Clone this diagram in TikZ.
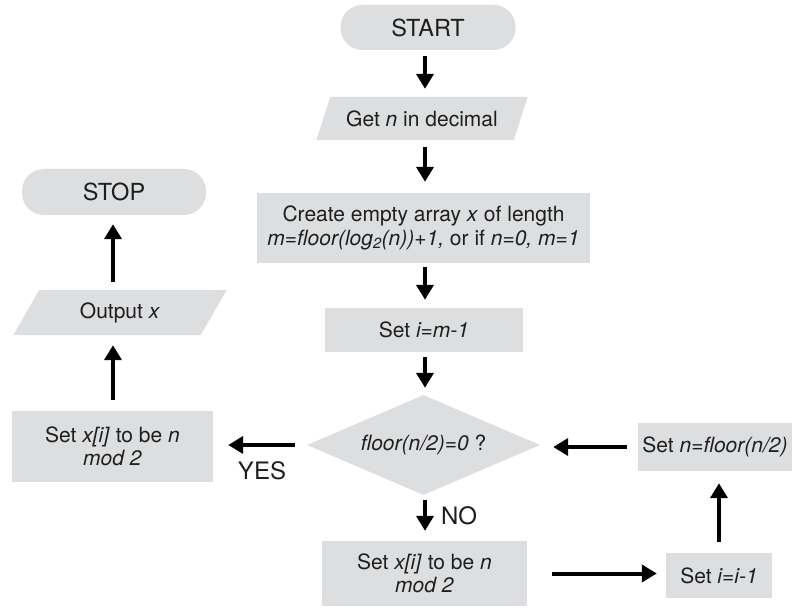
\documentclass[tikz,border=0pt]{standalone}
\usepackage{fontspec}
\setmainfont{TeX Gyre Heros}
\usetikzlibrary{arrows.meta,shapes.geometric}
\definecolor{boxgray}{RGB}{221,222,224}
\definecolor{txt}{RGB}{30,30,30}
\pgfdeclarelayer{bg}
\pgfsetlayers{bg,main}
\begin{document}
\begin{tikzpicture}[x=1pt,y=-1pt,
  every node/.style={text=txt, font=\fontsize{21}{23.5}\selectfont, inner sep=0pt, align=center},
  box/.style={rectangle, fill=boxgray},
  term/.style={rectangle, fill=boxgray, rounded corners=22pt, font=\fontsize{23.5}{26}\selectfont},
  iobox/.style={rectangle},
  cond/.style={diamond, fill=boxgray, aspect=2.33},
  arr/.style={line width=4pt, -{Triangle[length=15pt,width=17pt]}},
  lbl/.style={font=\fontsize{24}{26}\selectfont}]
\useasboundingbox (0,0) rectangle (794,609);

\node[term, minimum width=175pt, minimum height=45pt] (start) at (428,27.5) {START};
\node[iobox, minimum width=197pt, minimum height=43pt] (get) at (422,118.5) {Get \textit{n} in decimal};
\node[box, minimum width=333pt, minimum height=70pt] (create) at (423.5,228) {Create empty array \textit{x} of length\\\textit{m=floor(log\textsubscript{2}(n))+1,} or if \textit{n=0, m=1}};
\node[box, minimum width=198pt, minimum height=44pt] (seti) at (424,330) {Set \textit{i=m-1}};
\node[cond, minimum width=233pt, minimum height=100pt] (dec) at (423.5,445) {\textit{floor(n/2)=0} ?};
\node[box, minimum width=205pt, minimum height=65pt] (setx) at (424.5,573.5) {Set \textit{x[i]} to be \textit{n}\\\textit{mod 2}};
\node[box, minimum width=106pt, minimum height=45pt] (dec1) at (719,575.5) {Set \textit{i=i-1}};
\node[box, minimum width=154pt, minimum height=48pt] (half) at (715,447) {Set \textit{n=floor(n/2)}};
\node[box, minimum width=201pt, minimum height=71pt] (last) at (112.5,446.5) {Set \textit{x[i]} to be \textit{n}\\\textit{mod 2}};
\node[iobox, minimum width=187pt, minimum height=45pt] (out) at (120,312.5) {Output \textit{x}};
\node[term, minimum width=184pt, minimum height=46pt] (stop) at (114,192) {STOP};

\begin{pgfonlayer}{bg}
\fill[boxgray] ([xshift=7pt]get.north west) -- ([xshift=7pt]get.north east) -- ([xshift=-7pt]get.south east) -- ([xshift=-7pt]get.south west) -- cycle;
\fill[boxgray] ([xshift=13pt]out.north west) -- ([xshift=13pt]out.north east) -- ([xshift=-13pt]out.south east) -- ([xshift=-13pt]out.south west) -- cycle;
\end{pgfonlayer}

\coordinate (cx) at (425,0);
\coordinate (lx) at (113,0);
\draw[arr, shorten <=6pt, shorten >=8pt] (start.south -| cx) -- (get.north -| cx);
\draw[arr, shorten <=7pt, shorten >=11pt] (get.south -| cx) -- (create.north -| cx);
\draw[arr, shorten <=4pt, shorten >=8pt] (create.south -| cx) -- (seti.north -| cx);
\draw[arr, shorten <=5pt, shorten >=7pt] (seti.south -| cx) -- (dec.north -| cx);
\draw[arr, shorten <=5pt, shorten >=10pt] (dec.south -| cx) -- (setx.north -| cx);
\draw[arr, shorten <=12pt, shorten >=15pt] (dec.west) -- (dec.west -| last.east);
\draw[arr, shorten <=11pt, shorten >=13pt] (half.west) -- (half.west -| dec.east);
\draw[arr, shorten <=25pt, shorten >=9pt] (setx.east) -- (setx.east -| dec1.west);
\draw[arr, shorten <=11pt, shorten >=12pt] (dec1.north) -- (dec1.north |- half.south);
\draw[arr, shorten <=11pt, shorten >=10pt] (last.north -| lx) -- (out.south -| lx);
\draw[arr, shorten <=8pt, shorten >=9pt] (out.north -| lx) -- (stop.south -| lx);

\node[lbl] (yes) at (262,471) {YES};
\node[lbl] (no) at (459,516) {NO};
\end{tikzpicture}
\end{document}
